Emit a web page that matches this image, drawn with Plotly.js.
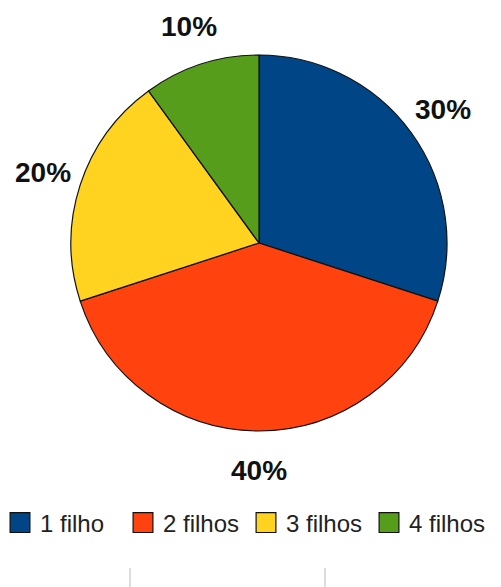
<!DOCTYPE html>
<html>
<head>
<meta charset="utf-8">
<script src="https://cdn.plot.ly/plotly-3.0.1.min.js"></script>
<style>html,body{margin:0;padding:0;background:#fff;}#chart{width:501px;height:587px;}</style>
</head>
<body>
<div id="chart"></div>
<script>
const labels = ['1 filho', '2 filhos', '3 filhos', '4 filhos'];
const values = [30, 40, 20, 10];
const colors = ['#004586', '#ff420e', '#ffd320', '#579d1c'];

const W = 501, H = 587;
const domX = [71 / W, 447 / W];
const domY = [1 - 431 / H, 1 - 55 / H];

// label positions derived from the slice values (mid-angle of each slice)
const total = values.reduce((a, b) => a + b, 0);
const cxPx = (domX[0] + domX[1]) / 2 * W;
const cyPx = (1 - (domY[0] + domY[1]) / 2) * H;
const rPx = Math.min((domX[1] - domX[0]) * W, (domY[1] - domY[0]) * H) / 2;
let cum = 0;
const annotations = values.map((v) => {
  const mid = (cum + v / 2) / total * 2 * Math.PI;
  cum += v;
  const d = rPx * 1.21;
  const px = cxPx + d * Math.sin(mid);
  const py = cyPx - d * Math.cos(mid);
  return {
    x: px / W, y: 1 - py / H, xref: 'paper', yref: 'paper',
    text: '<b>' + Math.round(v / total * 100) + '%</b>', showarrow: false,
    xanchor: 'center', yanchor: 'middle',
    font: {family: 'Liberation Sans, Arial, sans-serif', size: 28, color: '#111'}
  };
});

const data = [{
  type: 'pie',
  labels: labels,
  values: values,
  sort: false,
  direction: 'clockwise',
  rotation: 0,
  textinfo: 'none',
  hoverinfo: 'none',
  marker: {colors: colors, line: {color: '#111', width: 1.2}},
  domain: {x: domX, y: domY}
}];

const layout = {
  width: W, height: H,
  margin: {l: 0, r: 0, t: 0, b: 0},
  paper_bgcolor: '#fff',
  font: {family: 'Liberation Sans, Arial, sans-serif', color: '#222'},
  showlegend: true,
  legend: {
    orientation: 'h', x: 0, xanchor: 'left', y: 1 - 523 / H, yanchor: 'middle',
    font: {size: 24, color: '#222'}, itemwidth: 30, traceorder: 'normal',
    entrywidth: 78, entrywidthmode: 'pixels'
  },
  annotations: annotations,
  shapes: [
    {type: 'line', xref: 'paper', yref: 'paper', x0: 130 / W, x1: 130 / W, y0: 0, y1: 1 - 568 / H, line: {color: '#bbb', width: 1}},
    {type: 'line', xref: 'paper', yref: 'paper', x0: 325 / W, x1: 325 / W, y0: 0, y1: 1 - 568 / H, line: {color: '#bbb', width: 1}}
  ]
};

Plotly.newPlot('chart', data, layout, {staticPlot: true}).then((gd) => {
  // enlarge the legend squares to match the reference (keep existing translate)
  gd.querySelectorAll('.legendpoints path').forEach((p) => {
    const t = p.getAttribute('transform') || '';
    p.setAttribute('transform', t + ' scale(1.65)');
    p.style.strokeWidth = (1.2 / 1.65) + 'px';
  });
});
</script>
</body>
</html>
